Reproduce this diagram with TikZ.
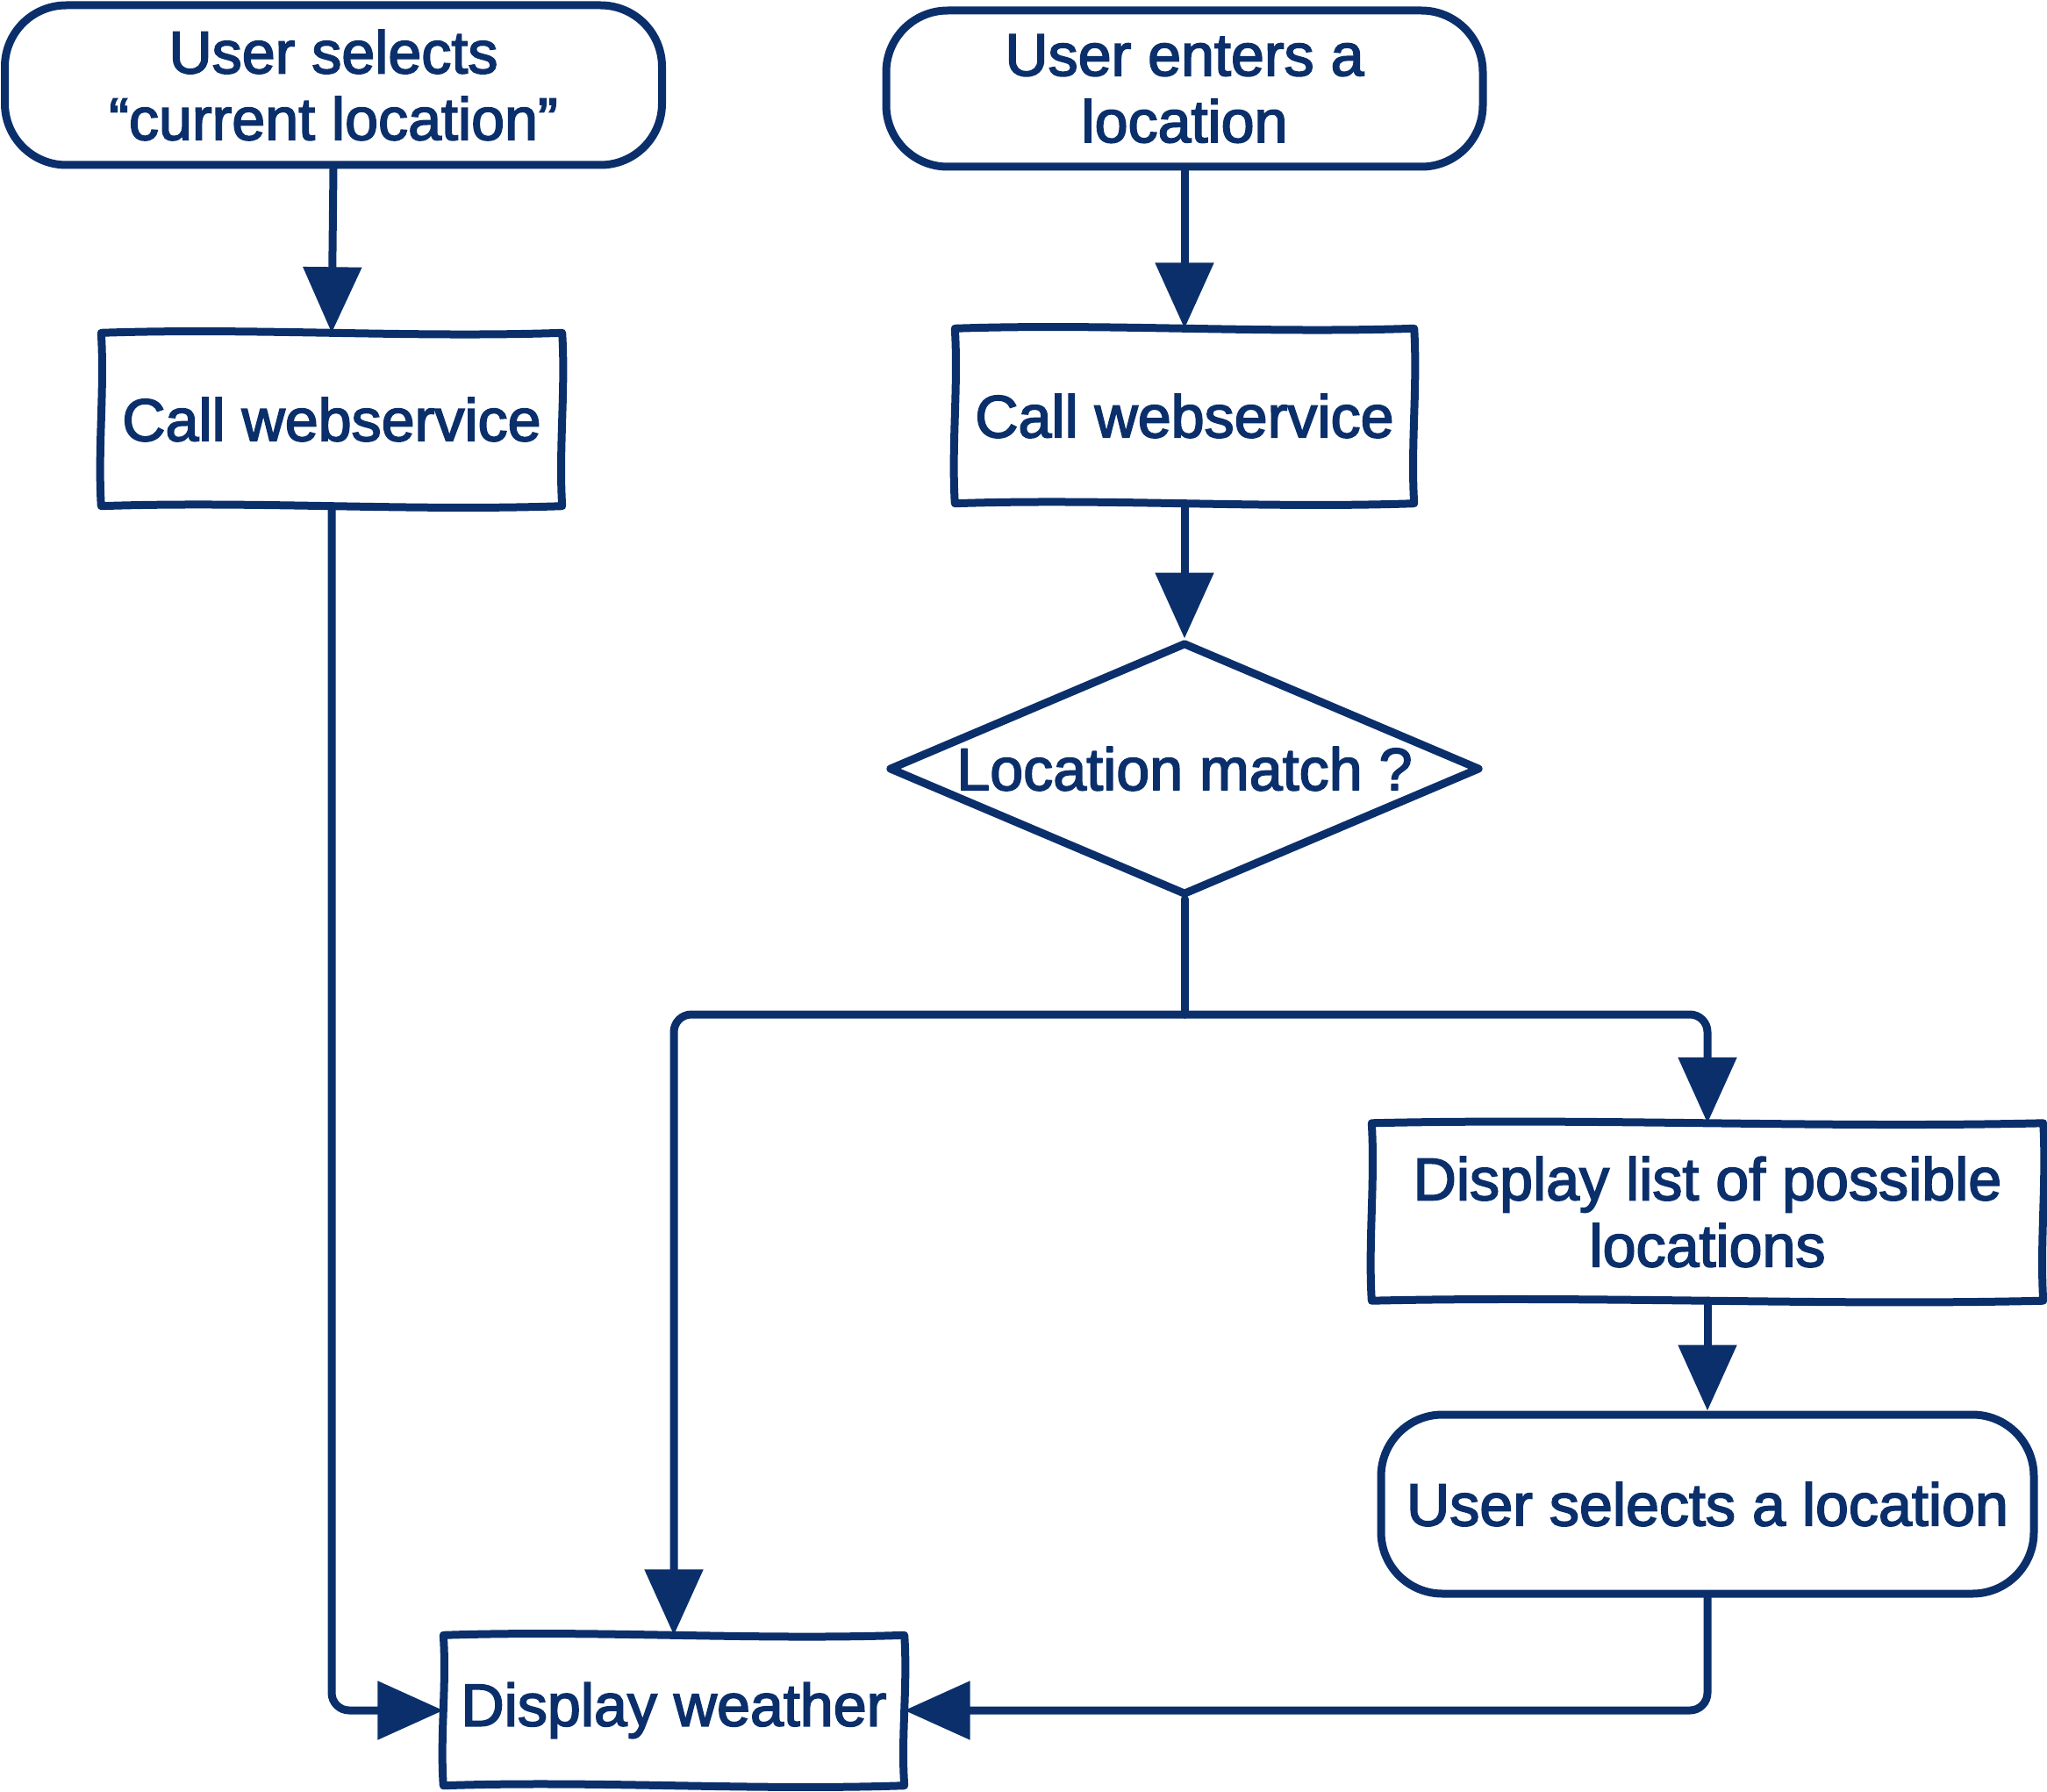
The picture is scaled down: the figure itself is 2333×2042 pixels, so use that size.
\documentclass[tikz,border=0pt]{standalone}
\usepackage{fontspec}
\newfontfamily\labfont{Liberation Sans}[FakeBold=2.5]
\usetikzlibrary{shapes.geometric,arrows.meta,calc}
\definecolor{navy}{RGB}{10,47,107}
\newcommand\wobbly[1]{%
  \draw[edgeline] (#1.north west)
    .. controls ($(#1.north west)!.33!(#1.north east)+(0,0.6mm)$) and ($(#1.north west)!.67!(#1.north east)+(0,-0.6mm)$) .. (#1.north east)
    .. controls ($(#1.north east)!.33!(#1.south east)+(0.4mm,0)$) and ($(#1.north east)!.67!(#1.south east)+(-0.4mm,0)$) .. (#1.south east)
    .. controls ($(#1.south east)!.33!(#1.south west)+(0,-0.6mm)$) and ($(#1.south east)!.67!(#1.south west)+(0,0.6mm)$) .. (#1.south west)
    .. controls ($(#1.south west)!.33!(#1.north west)+(-0.4mm,0)$) and ($(#1.south west)!.67!(#1.north west)+(0.4mm,0)$) .. (#1.north west) -- cycle;}
\begin{document}
\begin{tikzpicture}[x=0.1mm,y=-0.1mm,
  edgeline/.style={draw=navy,line width=0.9mm,line join=round,line cap=round},
  lbl/.style={text=navy,font=\labfont\fontsize{19.4}{21.6}\selectfont,align=center,inner sep=0pt},
  procbox/.style={lbl,rectangle},
  termbox/.style={lbl,rectangle,draw=navy,line width=0.9mm,rounded corners=7mm},
  decbox/.style={lbl,diamond,draw=navy,line width=0.9mm,line join=round,aspect=2.34},
  conn/.style={draw=navy,line width=0.9mm,rounded corners=2mm,line cap=round},
  arrowline/.style={conn,-{Triangle[length=7.5mm,width=6.5mm]}}]
\useasboundingbox (0,0) rectangle (2333,2042);

\node[termbox,minimum width=74.9mm,minimum height=18.2mm] (t1) at (380,97) {User selects\\“current location”};
\node[termbox,minimum width=68mm,minimum height=17.8mm] (t2) at (1350,101) {User enters a\\location};
\node[procbox,minimum width=52.4mm,minimum height=19.6mm] (cw1) at (378,478) {Call webservice};
\node[procbox,minimum width=52.2mm,minimum height=19.8mm] (cw2) at (1350,474) {Call webservice};
\node[decbox,minimum width=67.4mm,minimum height=28.8mm] (dia) at (1350,876) {Location match ?};
\node[procbox,minimum width=76.4mm,minimum height=20.1mm] (dl) at (1946,1381) {Display list of possible\\locations};
\node[termbox,minimum width=74.4mm,minimum height=20.4mm] (usl) at (1946,1714) {User selects a location};
\node[procbox,minimum width=52.4mm,minimum height=17mm] (dw) at (768,1949) {Display weather};

\wobbly{cw1}
\wobbly{cw2}
\wobbly{dl}
\wobbly{dw}

\coordinate (split) at (1350,1156);

\draw[arrowline] (t1.south) -- (cw1.north);
\draw[arrowline] (t2.south) -- (cw2.north);
\draw[arrowline] (cw2.south) -- (dia.north);
\draw[arrowline] (cw1.south) |- (dw.west);
\draw[conn] (dia.south) -- (split);
\draw[arrowline] (split) -| (dw.north);
\draw[arrowline] (split) -| (dl.north);
\draw[arrowline] (dl.south) -- (usl.north);
\draw[arrowline] (usl.south) |- (dw.east);
\end{tikzpicture}
\end{document}
